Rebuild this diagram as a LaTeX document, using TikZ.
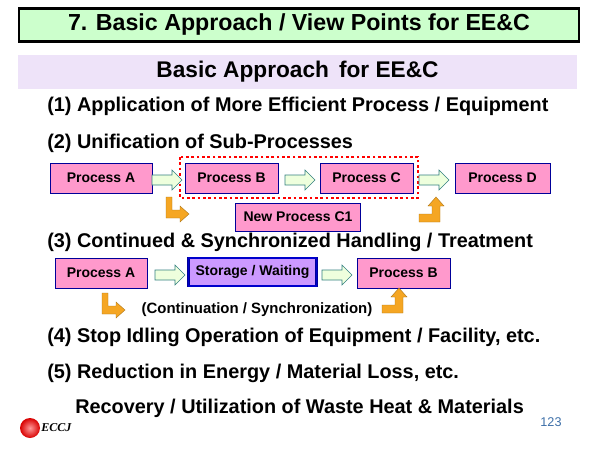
\documentclass[tikz,border=0pt]{standalone}
\usepackage{fontspec}
\setmainfont{Liberation Sans}
\newfontfamily\logofont{Liberation Serif}
\usetikzlibrary{positioning}
\definecolor{titlegreen}{HTML}{CCFFCC}
\definecolor{bandpurple}{HTML}{EEE3F9}
\definecolor{procpink}{HTML}{FF99CC}
\definecolor{storepurple}{HTML}{CC99FF}
\definecolor{arrowgreen}{HTML}{EEFFDD}
\definecolor{bentorange}{HTML}{F5A623}
\definecolor{pagenum}{HTML}{3D6FA8}
\tikzset{
  proc/.style={draw=blue!60!black,fill=procpink,minimum height=22.5pt,font=\bfseries\fontsize{10.5}{12}\selectfont,inner sep=0pt},
  flowarrow/.pic={\draw[draw=teal!60!gray,fill=arrowgreen] (-15,-5) -- (5,-5) -- (5,-10) -- (15,0) -- (5,10) -- (5,5) -- (-15,5) -- cycle;},
  item/.style={anchor=west,font=\bfseries\fontsize{14.9}{17}\selectfont,inner sep=0pt},
  bent/.style={fill=bentorange,draw=bentorange!70!black,line width=0.3pt}
}
\begin{document}
\begin{tikzpicture}[x=0.75pt,y=-0.75pt]
\useasboundingbox (0,0) rectangle (600,450);
% headings
\node[draw=black,line width=2pt,fill=titlegreen,minimum width=420pt,minimum height=25pt,font=\bfseries\fontsize{17.4}{20}\selectfont] (title) at (299,25) {7. Basic Approach / View Points for EE\&C};
\node[fill=bandpurple,minimum width=419pt,minimum height=25pt,font=\bfseries\fontsize{17}{19}\selectfont] (band) at (297.5,72) {Basic Approach\, for EE\&C};
\node[item] (p1) at (47,106) {(1) Application of More Efficient Process / Equipment};
\node[item] (p2) at (47,143) {(2) Unification of Sub-Processes};
% row of (2)
\node[proc,minimum width=76.5pt] (A2) at (101,178) {Process A};
\node[proc,minimum width=70pt] (B2) at (231.5,178) {Process B};
\node[proc,minimum width=70pt] (C2) at (366.5,178) {Process C};
\node[proc,minimum width=71pt] (D2) at (502.5,178) {Process D};
\node[proc,minimum width=94pt,minimum height=21pt] (C1) at (298,217) {New Process C1};
\draw[red,line width=2pt,dotted] (180,157) rectangle (418,198);
\pic at (167,180) {flowarrow};
\pic at (300,180) {flowarrow};
\pic at (434,180) {flowarrow};
\draw[bent] (166,197) -- (172,197) -- (172,210) -- (180,210) -- (180,206) -- (189,214) -- (180,222) -- (180,218) -- (166,218) -- cycle;
\draw[bent] (419,222) -- (419,214) -- (432,214) -- (432,206) -- (428,206) -- (436,197) -- (444,206) -- (440,206) -- (440,222) -- cycle;
% row of (3)
\node[item] (p3) at (47,242) {(3) Continued \& Synchronized Handling / Treatment};
\node[proc,minimum width=69pt] (A3) at (101,273) {Process A};
\node[draw=blue!60!black,double=blue!80!black,double distance=1.2pt,fill=storepurple,minimum width=96pt,minimum height=21pt,font=\bfseries\fontsize{10.5}{12}\selectfont,inner sep=0pt] (S3) at (252.5,272) {Storage / Waiting};
\node[proc,minimum width=70pt] (B3) at (403.5,273) {Process B};
\pic at (170,275) {flowarrow};
\pic at (337,275) {flowarrow};
\draw[bent] (102,293) -- (108,293) -- (108,306) -- (116,306) -- (116,302) -- (125,310) -- (116,318) -- (116,314) -- (102,314) -- cycle;
\draw[bent] (382,313) -- (382,305) -- (395,305) -- (395,297) -- (391,297) -- (399,288) -- (407,297) -- (403,297) -- (403,313) -- cycle;
\node[font=\bfseries\fontsize{11.2}{13}\selectfont] (cont) at (257,310) {(Continuation / Synchronization)};
\node[item] (p4) at (47,337) {(4) Stop Idling Operation of Equipment / Facility, etc.};
\node[item] (p5) at (47,373) {(5) Reduction in Energy / Material Loss, etc.};
\node[item] (rec) at (75,408) {Recovery / Utilization of Waste Heat \& Materials};
% logo and page number
\shade[inner color=red!40,outer color=red!85!black] (30,428) circle (10);
\node[anchor=west,font=\logofont\itshape\bfseries\fontsize{9}{10}\selectfont,inner sep=0pt] (eccj) at (41,428) {ECCJ};
\node[text=pagenum,font=\fontsize{9.5}{11}\selectfont] (num) at (551,422) {123};
\end{tikzpicture}
\end{document}
